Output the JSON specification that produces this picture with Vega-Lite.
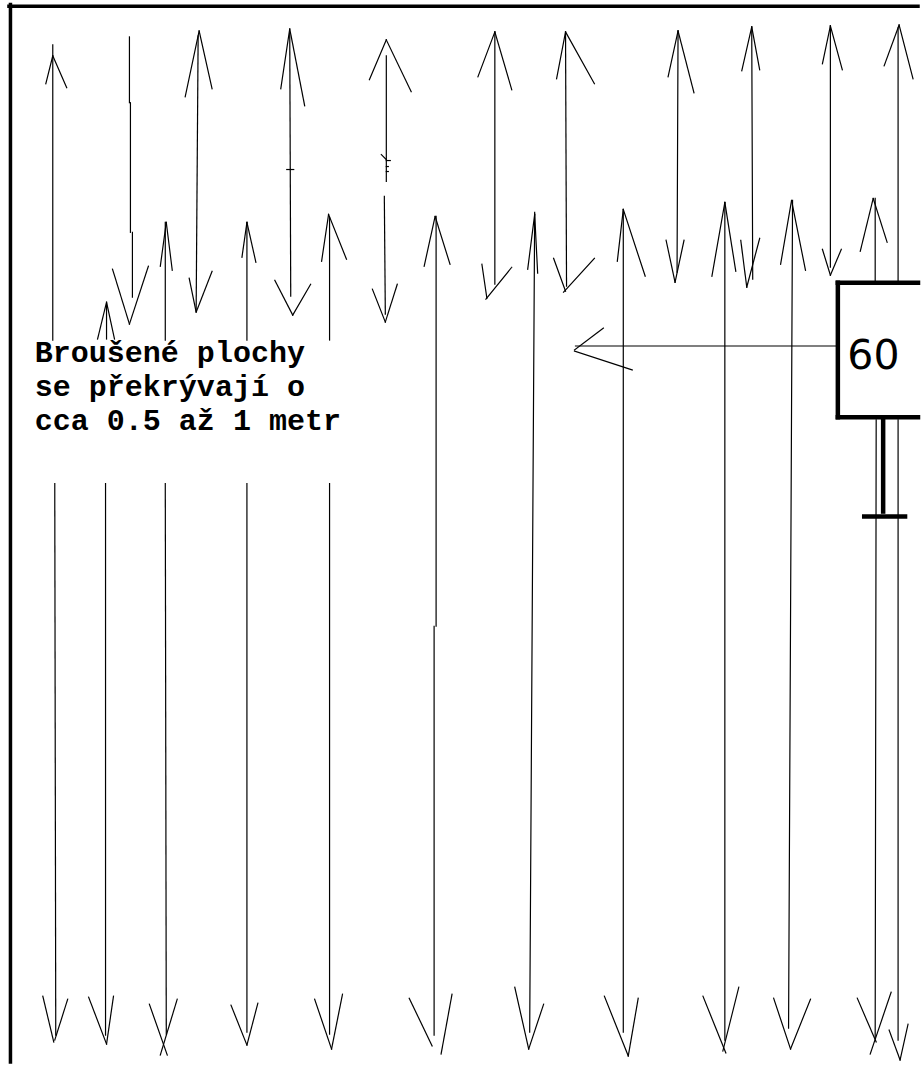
{
  "$schema": "https://vega.github.io/schema/vega-lite/v6.json",
  "width": 922,
  "height": 1065,
  "autosize": {"type": "fit", "contains": "padding"},
  "padding": 0,
  "background": "white",
  "config": {"view": {"stroke": null}},
  "datasets": {
    "segments": [
      {"x1": 10.5, "y1": 4.5, "x2": 10.5, "y2": 1065, "k": "frame"},
      {"x1": 9, "y1": 6.3, "x2": 922, "y2": 6.3, "k": "frame"},

      {"x1": 841.5, "y1": 283.5, "x2": 922, "y2": 283.5, "k": "box"},
      {"x1": 841.5, "y1": 283.5, "x2": 841.5, "y2": 418.5, "k": "box"},
      {"x1": 841.5, "y1": 418.5, "x2": 922, "y2": 418.5, "k": "box"},
      {"x1": 887, "y1": 420, "x2": 887, "y2": 513, "k": "box"},
      {"x1": 868, "y1": 518, "x2": 909, "y2": 518, "k": "box"},
      {"x1": 880, "y1": 421, "x2": 879, "y2": 1040, "k": "thin"},
      {"x1": 902, "y1": 421, "x2": 902, "y2": 1043, "k": "thin"},

      {"x1": 578, "y1": 347, "x2": 840, "y2": 347, "k": "thin"},
      {"x1": 577, "y1": 351, "x2": 606, "y2": 329, "k": "thin"},
      {"x1": 577, "y1": 352, "x2": 635, "y2": 371, "k": "thin"},

      {"x1": 53, "y1": 45, "x2": 53, "y2": 341, "k": "thin"},
      {"x1": 53, "y1": 56, "x2": 46, "y2": 84, "k": "thin"},
      {"x1": 53, "y1": 56, "x2": 67, "y2": 88, "k": "thin"},

      {"x1": 130, "y1": 37, "x2": 130, "y2": 103, "k": "thin"},
      {"x1": 131, "y1": 103, "x2": 131, "y2": 233, "k": "thin"},
      {"x1": 133, "y1": 233, "x2": 133, "y2": 298, "k": "thin"},
      {"x1": 113, "y1": 270, "x2": 130, "y2": 325, "k": "thin"},
      {"x1": 149, "y1": 267, "x2": 130, "y2": 325, "k": "thin"},

      {"x1": 199, "y1": 36, "x2": 197, "y2": 312, "k": "thin"},
      {"x1": 200, "y1": 31, "x2": 186, "y2": 97, "k": "thin"},
      {"x1": 200, "y1": 31, "x2": 213, "y2": 89, "k": "thin"},
      {"x1": 190, "y1": 279, "x2": 197, "y2": 313, "k": "thin"},
      {"x1": 213, "y1": 272, "x2": 197, "y2": 313, "k": "thin"},

      {"x1": 291, "y1": 33, "x2": 292, "y2": 297, "k": "thin"},
      {"x1": 291, "y1": 29, "x2": 282, "y2": 89, "k": "thin"},
      {"x1": 291, "y1": 29, "x2": 306, "y2": 106, "k": "thin"},
      {"x1": 288, "y1": 170, "x2": 295, "y2": 170, "k": "thin"},
      {"x1": 276, "y1": 281, "x2": 294, "y2": 316, "k": "thin"},
      {"x1": 312, "y1": 285, "x2": 294, "y2": 316, "k": "thin"},

      {"x1": 388, "y1": 40, "x2": 371, "y2": 80, "k": "thin"},
      {"x1": 388, "y1": 40, "x2": 413, "y2": 92, "k": "thin"},
      {"x1": 388, "y1": 56, "x2": 388, "y2": 182, "k": "thin"},
      {"x1": 383, "y1": 155, "x2": 388, "y2": 160, "k": "thin"},
      {"x1": 388, "y1": 161, "x2": 392, "y2": 161, "k": "thin"},
      {"x1": 388, "y1": 167, "x2": 390, "y2": 167, "k": "thin"},
      {"x1": 388, "y1": 172, "x2": 390, "y2": 172, "k": "thin"},
      {"x1": 386, "y1": 197, "x2": 387, "y2": 315, "k": "thin"},
      {"x1": 374, "y1": 290, "x2": 387, "y2": 323, "k": "thin"},
      {"x1": 399, "y1": 285, "x2": 387, "y2": 323, "k": "thin"},

      {"x1": 497, "y1": 32, "x2": 497, "y2": 285, "k": "thin"},
      {"x1": 497, "y1": 32, "x2": 480, "y2": 77, "k": "thin"},
      {"x1": 497, "y1": 32, "x2": 514, "y2": 90, "k": "thin"},
      {"x1": 484, "y1": 265, "x2": 489, "y2": 299, "k": "thin"},
      {"x1": 514, "y1": 268, "x2": 488, "y2": 300, "k": "thin"},

      {"x1": 568, "y1": 32, "x2": 569, "y2": 287, "k": "thin"},
      {"x1": 568, "y1": 32, "x2": 559, "y2": 79, "k": "thin"},
      {"x1": 568, "y1": 32, "x2": 597, "y2": 84, "k": "thin"},
      {"x1": 556, "y1": 259, "x2": 568, "y2": 292, "k": "thin"},
      {"x1": 597, "y1": 259, "x2": 566, "y2": 293, "k": "thin"},

      {"x1": 681, "y1": 31, "x2": 680, "y2": 273, "k": "thin"},
      {"x1": 681, "y1": 31, "x2": 671, "y2": 77, "k": "thin"},
      {"x1": 681, "y1": 31, "x2": 697, "y2": 93, "k": "thin"},
      {"x1": 669, "y1": 241, "x2": 678, "y2": 283, "k": "thin"},
      {"x1": 687, "y1": 241, "x2": 678, "y2": 283, "k": "thin"},

      {"x1": 755, "y1": 27, "x2": 756, "y2": 280, "k": "thin"},
      {"x1": 755, "y1": 27, "x2": 745, "y2": 71, "k": "thin"},
      {"x1": 755, "y1": 27, "x2": 763, "y2": 70, "k": "thin"},
      {"x1": 744, "y1": 241, "x2": 750, "y2": 288, "k": "thin"},
      {"x1": 763, "y1": 239, "x2": 750, "y2": 288, "k": "thin"},

      {"x1": 834, "y1": 26, "x2": 834, "y2": 268, "k": "thin"},
      {"x1": 834, "y1": 26, "x2": 826, "y2": 64, "k": "thin"},
      {"x1": 834, "y1": 26, "x2": 846, "y2": 70, "k": "thin"},
      {"x1": 826, "y1": 250, "x2": 834, "y2": 276, "k": "thin"},
      {"x1": 845, "y1": 250, "x2": 834, "y2": 276, "k": "thin"},

      {"x1": 902, "y1": 28, "x2": 902, "y2": 284, "k": "thin"},
      {"x1": 903, "y1": 25, "x2": 888, "y2": 66, "k": "thin"},
      {"x1": 903, "y1": 25, "x2": 917, "y2": 79, "k": "thin"},

      {"x1": 107, "y1": 304, "x2": 107, "y2": 340, "k": "thin"},
      {"x1": 107, "y1": 303, "x2": 98, "y2": 340, "k": "thin"},
      {"x1": 107, "y1": 303, "x2": 115, "y2": 340, "k": "thin"},

      {"x1": 166, "y1": 223, "x2": 166, "y2": 341, "k": "thin"},
      {"x1": 167, "y1": 223, "x2": 161, "y2": 267, "k": "thin"},
      {"x1": 167, "y1": 223, "x2": 173, "y2": 271, "k": "thin"},

      {"x1": 248, "y1": 223, "x2": 248, "y2": 341, "k": "thin"},
      {"x1": 248, "y1": 223, "x2": 243, "y2": 258, "k": "thin"},
      {"x1": 248, "y1": 223, "x2": 257, "y2": 263, "k": "thin"},

      {"x1": 331, "y1": 218, "x2": 331, "y2": 341, "k": "thin"},
      {"x1": 330, "y1": 215, "x2": 323, "y2": 262, "k": "thin"},
      {"x1": 330, "y1": 215, "x2": 348, "y2": 260, "k": "thin"},

      {"x1": 438, "y1": 217, "x2": 438, "y2": 628, "k": "thin"},
      {"x1": 436, "y1": 628, "x2": 436, "y2": 1038, "k": "thin"},
      {"x1": 437, "y1": 217, "x2": 426, "y2": 267, "k": "thin"},
      {"x1": 437, "y1": 217, "x2": 452, "y2": 265, "k": "thin"},

      {"x1": 537, "y1": 213, "x2": 532, "y2": 1035, "k": "thin"},
      {"x1": 537, "y1": 215, "x2": 530, "y2": 270, "k": "thin"},
      {"x1": 537, "y1": 215, "x2": 540, "y2": 274, "k": "thin"},

      {"x1": 626, "y1": 210, "x2": 626, "y2": 1035, "k": "thin"},
      {"x1": 626, "y1": 210, "x2": 620, "y2": 262, "k": "thin"},
      {"x1": 626, "y1": 210, "x2": 648, "y2": 277, "k": "thin"},

      {"x1": 728, "y1": 203, "x2": 728, "y2": 1043, "k": "thin"},
      {"x1": 728, "y1": 203, "x2": 715, "y2": 277, "k": "thin"},
      {"x1": 728, "y1": 203, "x2": 739, "y2": 272, "k": "thin"},

      {"x1": 796, "y1": 201, "x2": 792, "y2": 1031, "k": "thin"},
      {"x1": 795, "y1": 201, "x2": 784, "y2": 265, "k": "thin"},
      {"x1": 795, "y1": 201, "x2": 809, "y2": 271, "k": "thin"},

      {"x1": 879, "y1": 199, "x2": 879, "y2": 283, "k": "thin"},
      {"x1": 877, "y1": 199, "x2": 864, "y2": 252, "k": "thin"},
      {"x1": 877, "y1": 199, "x2": 891, "y2": 243, "k": "thin"},

      {"x1": 55, "y1": 485, "x2": 56, "y2": 1038, "k": "thin"},
      {"x1": 106, "y1": 485, "x2": 106, "y2": 1038, "k": "thin"},
      {"x1": 166, "y1": 485, "x2": 167, "y2": 1037, "k": "thin"},
      {"x1": 248, "y1": 485, "x2": 248, "y2": 1035, "k": "thin"},
      {"x1": 331, "y1": 485, "x2": 331, "y2": 1037, "k": "thin"},

      {"x1": 43, "y1": 999, "x2": 54, "y2": 1045, "k": "thin"},
      {"x1": 68, "y1": 1002, "x2": 55, "y2": 1043, "k": "thin"},
      {"x1": 89, "y1": 1000, "x2": 107, "y2": 1047, "k": "thin"},
      {"x1": 114, "y1": 999, "x2": 107, "y2": 1047, "k": "thin"},
      {"x1": 150, "y1": 1007, "x2": 168, "y2": 1058, "k": "thin"},
      {"x1": 178, "y1": 1002, "x2": 161, "y2": 1058, "k": "thin"},
      {"x1": 232, "y1": 1008, "x2": 248, "y2": 1048, "k": "thin"},
      {"x1": 259, "y1": 1006, "x2": 248, "y2": 1048, "k": "thin"},
      {"x1": 316, "y1": 1002, "x2": 333, "y2": 1052, "k": "thin"},
      {"x1": 344, "y1": 997, "x2": 333, "y2": 1052, "k": "thin"},
      {"x1": 411, "y1": 1001, "x2": 434, "y2": 1049, "k": "thin"},
      {"x1": 454, "y1": 997, "x2": 443, "y2": 1057, "k": "thin"},
      {"x1": 517, "y1": 990, "x2": 531, "y2": 1052, "k": "thin"},
      {"x1": 546, "y1": 1007, "x2": 531, "y2": 1052, "k": "thin"},
      {"x1": 607, "y1": 999, "x2": 631, "y2": 1059, "k": "thin"},
      {"x1": 641, "y1": 1001, "x2": 631, "y2": 1059, "k": "thin"},
      {"x1": 706, "y1": 999, "x2": 729, "y2": 1056, "k": "thin"},
      {"x1": 742, "y1": 990, "x2": 726, "y2": 1054, "k": "thin"},
      {"x1": 777, "y1": 1001, "x2": 794, "y2": 1052, "k": "thin"},
      {"x1": 814, "y1": 1002, "x2": 794, "y2": 1052, "k": "thin"},
      {"x1": 861, "y1": 1001, "x2": 880, "y2": 1045, "k": "thin"},
      {"x1": 895, "y1": 995, "x2": 874, "y2": 1057, "k": "thin"},
      {"x1": 893, "y1": 1033, "x2": 904, "y2": 1063, "k": "thin"},
      {"x1": 912, "y1": 1027, "x2": 904, "y2": 1063, "k": "thin"}
    ],
    "labels": [
      {"t": "Broušené plochy", "x": 35, "y": 363},
      {"t": "se překrývají o", "x": 35, "y": 397},
      {"t": "cca 0.5 až 1 metr", "x": 35, "y": 431}
    ],
    "sign": [
      {"t": "60", "x": 851, "y": 370}
    ]
  },
  "encoding": {
    "x": {"field": "x1", "type": "quantitative", "scale": {"domain": [0, 922], "nice": false, "zero": false}, "axis": null},
    "y": {"field": "y1", "type": "quantitative", "scale": {"domain": [0, 1065], "nice": false, "zero": false, "reverse": true}, "axis": null}
  },
  "layer": [
    {
      "data": {"name": "segments"},
      "transform": [{"filter": "datum.k === 'thin'"}],
      "mark": {"type": "rule", "color": "black", "strokeWidth": 1.2, "strokeCap": "square"},
      "encoding": {"x2": {"field": "x2"}, "y2": {"field": "y2"}}
    },
    {
      "data": {"name": "segments"},
      "transform": [{"filter": "datum.k === 'frame'"}],
      "mark": {"type": "rule", "color": "black", "strokeWidth": 3.5, "strokeCap": "square"},
      "encoding": {"x2": {"field": "x2"}, "y2": {"field": "y2"}}
    },
    {
      "data": {"name": "segments"},
      "transform": [{"filter": "datum.k === 'box'"}],
      "mark": {"type": "rule", "color": "black", "strokeWidth": 4.5, "strokeCap": "square"},
      "encoding": {"x2": {"field": "x2"}, "y2": {"field": "y2"}}
    },
    {
      "data": {"name": "labels"},
      "mark": {"type": "text", "font": "Liberation Mono", "fontWeight": "bold", "fontSize": 30, "align": "left", "baseline": "alphabetic", "color": "black"},
      "encoding": {
        "x": {"field": "x", "type": "quantitative"},
        "y": {"field": "y", "type": "quantitative"},
        "text": {"field": "t"}
      }
    },
    {
      "data": {"name": "sign"},
      "mark": {"type": "text", "font": "DejaVu Sans", "fontSize": 41, "align": "left", "baseline": "alphabetic", "color": "black"},
      "encoding": {
        "x": {"field": "x", "type": "quantitative"},
        "y": {"field": "y", "type": "quantitative"},
        "text": {"field": "t"}
      }
    }
  ]
}
